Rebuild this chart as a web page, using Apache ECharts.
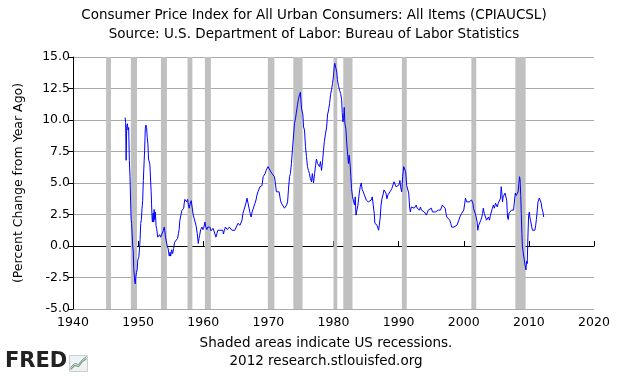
<!DOCTYPE html>
<html>
<head>
<meta charset="utf-8">
<script src="https://cdn.jsdelivr.net/npm/echarts@6/dist/echarts.min.js"></script>
<style>
	html, body { margin: 0; padding: 0; background: #fff; }
	#chart { width: 628px; height: 376px; }
</style>
</head>
<body>
<div id="chart"></div>
<script>
// Year-over-year % change of CPIAUCSL
const cpiYoY = [
	[ 1948.0, 10.2 ], [ 1948.08, 9.8 ], [ 1948.16, 6.8 ], [ 1948.25, 9.5 ], [ 1948.35, 9.7 ], [ 1948.45, 9.2 ],
	[ 1948.55, 9.4 ], [ 1948.65, 6.8 ], [ 1948.75, 5.5 ], [ 1948.85, 3.5 ], [ 1948.93, 2.1 ], [ 1949.0, 1.8 ],
	[ 1949.08, 1.0 ], [ 1949.17, 0.0 ], [ 1949.25, -0.4 ], [ 1949.33, -1.8 ], [ 1949.45, -2.6 ], [ 1949.55, -3.0 ],
	[ 1949.65, -2.4 ], [ 1949.75, -2.1 ], [ 1949.85, -1.9 ], [ 1949.95, -1.1 ], [ 1950.1, -0.9 ], [ 1950.2, -0.3 ],
	[ 1950.3, 0.5 ], [ 1950.4, 1.8 ], [ 1950.5, 2.1 ], [ 1950.6, 3.0 ], [ 1950.7, 3.6 ], [ 1950.8, 5.2 ],
	[ 1950.93, 6.8 ], [ 1951.0, 7.6 ], [ 1951.1, 9.3 ], [ 1951.2, 9.6 ], [ 1951.3, 9.4 ], [ 1951.4, 8.6 ],
	[ 1951.5, 8.1 ], [ 1951.6, 6.9 ], [ 1951.7, 7.0 ], [ 1951.8, 6.5 ], [ 1951.9, 6.6 ], [ 1952.0, 4.3 ],
	[ 1952.06, 3.4 ], [ 1952.15, 2.1 ], [ 1952.2, 1.9 ], [ 1952.3, 2.6 ], [ 1952.4, 1.9 ], [ 1952.45, 2.9 ],
	[ 1952.55, 2.1 ], [ 1952.65, 2.7 ], [ 1952.75, 1.6 ], [ 1952.85, 1.4 ], [ 1953.0, 0.7 ], [ 1953.15, 0.6 ],
	[ 1953.3, 0.9 ], [ 1953.45, 0.7 ], [ 1953.6, 0.8 ], [ 1953.75, 0.6 ], [ 1953.85, 1.2 ], [ 1954.0, 1.5 ],
	[ 1954.1, 1.2 ], [ 1954.2, 0.7 ], [ 1954.3, 0.6 ], [ 1954.47, 0.0 ], [ 1954.6, -0.2 ], [ 1954.78, -0.8 ],
	[ 1954.9, -0.5 ], [ 1955.0, -0.8 ], [ 1955.15, -0.3 ], [ 1955.3, -0.6 ], [ 1955.45, -0.2 ], [ 1955.6, 0.3 ],
	[ 1955.75, 0.4 ], [ 1955.9, 0.2 ], [ 1956.05, 0.6 ], [ 1956.2, 1.0 ], [ 1956.3, 1.3 ], [ 1956.4, 2.0 ],
	[ 1956.55, 2.1 ], [ 1956.7, 2.8 ], [ 1956.85, 2.9 ], [ 1957.0, 3.0 ], [ 1957.08, 3.4 ], [ 1957.18, 3.7 ],
	[ 1957.3, 3.6 ], [ 1957.45, 3.5 ], [ 1957.6, 3.7 ], [ 1957.7, 3.3 ], [ 1957.85, 3.0 ], [ 1958.0, 3.4 ],
	[ 1958.15, 3.6 ], [ 1958.3, 3.5 ], [ 1958.46, 2.45 ], [ 1958.6, 2.2 ], [ 1958.77, 2.05 ], [ 1958.9, 1.6 ],
	[ 1959.08, 1.0 ], [ 1959.23, 0.2 ], [ 1959.35, 0.6 ], [ 1959.45, 0.85 ], [ 1959.6, 1.3 ], [ 1959.8, 1.5 ],
	[ 1959.95, 1.3 ], [ 1960.1, 1.5 ], [ 1960.26, 1.9 ], [ 1960.4, 1.5 ], [ 1960.55, 1.3 ], [ 1960.7, 1.5 ],
	[ 1960.85, 1.4 ], [ 1961.03, 1.5 ], [ 1961.2, 1.2 ], [ 1961.35, 1.1 ], [ 1961.5, 1.4 ], [ 1961.65, 1.2 ],
	[ 1961.8, 1.15 ], [ 1961.95, 0.7 ], [ 1962.1, 1.0 ], [ 1962.25, 1.25 ], [ 1962.4, 1.4 ], [ 1962.56, 1.25 ],
	[ 1962.7, 1.25 ], [ 1962.85, 1.4 ], [ 1963.0, 1.25 ], [ 1963.1, 0.95 ], [ 1963.25, 1.25 ], [ 1963.4, 1.5 ],
	[ 1963.55, 1.65 ], [ 1963.7, 1.3 ], [ 1963.85, 1.25 ], [ 1964.0, 1.5 ], [ 1964.2, 1.5 ], [ 1964.4, 1.25 ],
	[ 1964.56, 1.15 ], [ 1964.7, 1.25 ], [ 1964.85, 1.25 ], [ 1965.0, 1.4 ], [ 1965.15, 1.4 ], [ 1965.33, 1.8 ],
	[ 1965.5, 1.9 ], [ 1965.65, 1.65 ], [ 1965.8, 1.8 ], [ 1965.95, 2.05 ], [ 1966.1, 2.6 ], [ 1966.25, 2.85 ],
	[ 1966.4, 2.8 ], [ 1966.55, 3.4 ], [ 1966.72, 3.8 ], [ 1966.85, 3.65 ], [ 1967.03, 3.0 ], [ 1967.2, 2.6 ],
	[ 1967.35, 2.3 ], [ 1967.5, 2.7 ], [ 1967.65, 2.6 ], [ 1967.8, 2.85 ], [ 1967.95, 3.4 ], [ 1968.1, 3.65 ],
	[ 1968.25, 4.05 ], [ 1968.4, 4.3 ], [ 1968.55, 4.4 ], [ 1968.7, 4.7 ], [ 1968.85, 4.55 ], [ 1969.03, 4.8 ],
	[ 1969.2, 5.5 ], [ 1969.35, 5.6 ], [ 1969.5, 5.75 ], [ 1969.65, 6.0 ], [ 1969.8, 5.9 ], [ 1969.95, 6.3 ],
	[ 1970.1, 6.4 ], [ 1970.26, 6.0 ], [ 1970.4, 5.9 ], [ 1970.55, 5.75 ], [ 1970.75, 5.6 ], [ 1970.93, 5.5 ],
	[ 1971.05, 5.1 ], [ 1971.23, 4.3 ], [ 1971.35, 4.4 ], [ 1971.5, 4.2 ], [ 1971.65, 4.3 ], [ 1971.85, 3.65 ],
	[ 1972.0, 3.4 ], [ 1972.15, 3.5 ], [ 1972.3, 3.25 ], [ 1972.47, 3.0 ], [ 1972.6, 3.0 ], [ 1972.8, 3.25 ],
	[ 1972.95, 3.5 ], [ 1973.08, 4.45 ], [ 1973.25, 5.5 ], [ 1973.38, 5.75 ], [ 1973.54, 6.55 ], [ 1973.7, 7.7 ],
	[ 1973.85, 8.65 ], [ 1974.0, 9.7 ], [ 1974.16, 10.1 ], [ 1974.3, 10.2 ], [ 1974.47, 11.2 ], [ 1974.6, 11.6 ],
	[ 1974.77, 12.0 ], [ 1974.92, 12.2 ], [ 1975.0, 11.5 ], [ 1975.1, 10.9 ], [ 1975.3, 10.4 ], [ 1975.4, 9.45 ],
	[ 1975.55, 9.2 ], [ 1975.7, 7.9 ], [ 1975.85, 7.1 ], [ 1976.0, 6.3 ], [ 1976.16, 6.0 ], [ 1976.3, 5.75 ],
	[ 1976.45, 5.35 ], [ 1976.62, 5.1 ], [ 1976.75, 5.75 ], [ 1976.93, 5.0 ], [ 1977.1, 5.75 ], [ 1977.25, 6.4 ],
	[ 1977.38, 6.9 ], [ 1977.55, 6.55 ], [ 1977.7, 6.6 ], [ 1977.85, 6.3 ], [ 1978.0, 6.7 ], [ 1978.16, 6.0 ],
	[ 1978.3, 6.6 ], [ 1978.46, 7.6 ], [ 1978.6, 8.3 ], [ 1978.77, 8.9 ], [ 1978.95, 9.45 ], [ 1979.08, 10.4 ],
	[ 1979.25, 10.8 ], [ 1979.4, 11.3 ], [ 1979.54, 12.0 ], [ 1979.7, 12.4 ], [ 1979.85, 12.9 ], [ 1980.0, 13.5 ],
	[ 1980.1, 14.2 ], [ 1980.2, 14.5 ], [ 1980.3, 14.6 ], [ 1980.4, 14.5 ], [ 1980.5, 13.8 ], [ 1980.6, 13.2 ],
	[ 1980.75, 12.75 ], [ 1980.93, 12.35 ], [ 1981.1, 12.1 ], [ 1981.25, 11.6 ], [ 1981.34, 10.6 ], [ 1981.45, 9.85 ],
	[ 1981.55, 10.1 ], [ 1981.65, 11.0 ], [ 1981.75, 9.7 ], [ 1981.9, 9.3 ], [ 1982.06, 8.0 ], [ 1982.2, 7.1 ],
	[ 1982.3, 6.55 ], [ 1982.4, 7.2 ], [ 1982.57, 6.3 ], [ 1982.67, 5.5 ], [ 1982.77, 4.55 ], [ 1982.92, 3.9 ],
	[ 1983.05, 3.75 ], [ 1983.23, 3.25 ], [ 1983.34, 3.9 ], [ 1983.45, 2.45 ], [ 1983.6, 2.85 ], [ 1983.75, 3.25 ],
	[ 1983.96, 4.2 ], [ 1984.1, 4.7 ], [ 1984.26, 5.0 ], [ 1984.4, 4.5 ], [ 1984.56, 4.3 ], [ 1984.7, 4.3 ],
	[ 1984.85, 4.2 ], [ 1985.03, 3.65 ], [ 1985.2, 3.8 ], [ 1985.35, 3.5 ], [ 1985.5, 3.65 ], [ 1985.65, 3.4 ],
	[ 1985.8, 3.65 ], [ 1985.95, 3.9 ], [ 1986.1, 4.05 ], [ 1986.25, 2.6 ], [ 1986.36, 1.8 ], [ 1986.5, 1.8 ],
	[ 1986.68, 1.65 ], [ 1986.83, 1.5 ], [ 1986.93, 1.25 ], [ 1987.03, 1.65 ], [ 1987.18, 2.3 ], [ 1987.3, 3.25 ],
	[ 1987.45, 3.8 ], [ 1987.6, 4.05 ], [ 1987.75, 4.45 ], [ 1987.9, 4.3 ], [ 1988.05, 4.2 ], [ 1988.21, 3.75 ],
	[ 1988.35, 4.05 ], [ 1988.5, 4.2 ], [ 1988.67, 4.3 ], [ 1988.8, 4.45 ], [ 1988.95, 4.55 ], [ 1989.1, 4.7 ],
	[ 1989.29, 5.1 ], [ 1989.45, 5.2 ], [ 1989.6, 4.7 ], [ 1989.75, 4.85 ], [ 1989.9, 4.7 ], [ 1990.05, 4.85 ],
	[ 1990.2, 5.2 ], [ 1990.3, 4.7 ], [ 1990.47, 4.3 ], [ 1990.62, 5.5 ], [ 1990.78, 6.3 ], [ 1990.93, 6.2 ],
	[ 1991.08, 5.9 ], [ 1991.24, 4.8 ], [ 1991.4, 4.9 ], [ 1991.55, 4.2 ], [ 1991.7, 3.0 ], [ 1991.8, 2.7 ],
	[ 1991.95, 3.1 ], [ 1992.1, 3.0 ], [ 1992.25, 3.1 ], [ 1992.4, 3.0 ], [ 1992.57, 3.1 ], [ 1992.7, 3.25 ],
	[ 1992.85, 3.0 ], [ 1993.0, 3.1 ], [ 1993.2, 2.85 ], [ 1993.35, 3.1 ], [ 1993.5, 2.85 ], [ 1993.65, 2.85 ],
	[ 1993.8, 2.7 ], [ 1993.95, 2.7 ], [ 1994.1, 2.6 ], [ 1994.26, 2.45 ], [ 1994.4, 2.3 ], [ 1994.55, 2.85 ],
	[ 1994.7, 2.7 ], [ 1994.85, 2.7 ], [ 1995.03, 3.0 ], [ 1995.2, 2.7 ], [ 1995.35, 2.85 ], [ 1995.5, 2.6 ],
	[ 1995.65, 2.7 ], [ 1995.8, 2.85 ], [ 1995.95, 2.7 ], [ 1996.1, 2.85 ], [ 1996.25, 2.85 ], [ 1996.42, 2.85 ],
	[ 1996.57, 3.0 ], [ 1996.72, 3.25 ], [ 1996.88, 3.4 ], [ 1997.0, 3.25 ], [ 1997.15, 3.0 ], [ 1997.3, 2.5 ],
	[ 1997.4, 2.3 ], [ 1997.55, 2.2 ], [ 1997.7, 2.3 ], [ 1997.85, 2.05 ], [ 1998.0, 1.8 ], [ 1998.15, 1.5 ],
	[ 1998.32, 1.4 ], [ 1998.5, 1.5 ], [ 1998.65, 1.65 ], [ 1998.8, 1.5 ], [ 1998.95, 1.65 ], [ 1999.09, 1.8 ],
	[ 1999.25, 2.05 ], [ 1999.4, 2.3 ], [ 1999.55, 2.3 ], [ 1999.7, 2.6 ], [ 1999.85, 2.7 ], [ 2000.0, 2.85 ],
	[ 2000.16, 3.4 ], [ 2000.26, 3.8 ], [ 2000.35, 3.65 ], [ 2000.45, 3.5 ], [ 2000.55, 3.65 ], [ 2000.7, 3.4 ],
	[ 2000.85, 3.5 ], [ 2001.03, 3.65 ], [ 2001.2, 3.65 ], [ 2001.3, 3.5 ], [ 2001.4, 3.4 ], [ 2001.5, 3.0 ],
	[ 2001.6, 2.85 ], [ 2001.75, 2.6 ], [ 2001.9, 2.3 ], [ 2002.06, 1.9 ], [ 2002.15, 1.25 ], [ 2002.3, 1.65 ],
	[ 2002.45, 1.8 ], [ 2002.62, 2.05 ], [ 2002.78, 2.3 ], [ 2002.9, 2.6 ], [ 2003.0, 3.0 ], [ 2003.15, 2.6 ],
	[ 2003.34, 2.3 ], [ 2003.5, 2.05 ], [ 2003.65, 2.2 ], [ 2003.8, 2.3 ], [ 2003.95, 2.05 ], [ 2004.1, 2.45 ],
	[ 2004.25, 2.6 ], [ 2004.4, 3.0 ], [ 2004.55, 3.25 ], [ 2004.7, 3.0 ], [ 2004.88, 3.4 ], [ 2005.0, 3.5 ],
	[ 2005.15, 3.1 ], [ 2005.3, 3.4 ], [ 2005.45, 3.4 ], [ 2005.65, 3.8 ], [ 2005.75, 4.7 ], [ 2005.85, 4.2 ],
	[ 2005.95, 3.5 ], [ 2006.05, 3.9 ], [ 2006.2, 3.8 ], [ 2006.35, 4.2 ], [ 2006.5, 4.1 ], [ 2006.6, 3.6 ],
	[ 2006.72, 2.3 ], [ 2006.83, 2.1 ], [ 2006.95, 2.6 ], [ 2007.1, 2.5 ], [ 2007.25, 2.7 ], [ 2007.34, 2.85 ],
	[ 2007.5, 2.7 ], [ 2007.65, 2.85 ], [ 2007.8, 3.65 ], [ 2007.92, 4.2 ], [ 2008.05, 4.0 ], [ 2008.2, 4.1 ],
	[ 2008.35, 4.3 ], [ 2008.45, 4.85 ], [ 2008.57, 5.5 ], [ 2008.65, 5.25 ], [ 2008.75, 4.0 ], [ 2008.83, 2.6 ],
	[ 2008.93, 1.0 ], [ 2009.0, 0.0 ], [ 2009.1, -0.1 ], [ 2009.2, -0.8 ], [ 2009.3, -1.1 ], [ 2009.4, -1.5 ],
	[ 2009.55, -1.9 ], [ 2009.65, -1.2 ], [ 2009.75, -1.4 ], [ 2009.85, 0.7 ], [ 2009.95, 2.3 ], [ 2010.06, 2.7 ],
	[ 2010.15, 2.3 ], [ 2010.25, 2.05 ], [ 2010.35, 2.05 ], [ 2010.45, 1.5 ], [ 2010.55, 1.25 ], [ 2010.68, 1.25 ],
	[ 2010.8, 1.2 ], [ 2010.92, 1.25 ], [ 2011.05, 1.65 ], [ 2011.15, 2.1 ], [ 2011.29, 2.85 ], [ 2011.4, 3.5 ],
	[ 2011.5, 3.65 ], [ 2011.6, 3.8 ], [ 2011.7, 3.9 ], [ 2011.8, 3.8 ], [ 2011.9, 3.4 ], [ 2012.0, 3.0 ],
	[ 2012.16, 2.7 ], [ 2012.27, 2.3 ]
];

// NBER recessions as fractional years (start, end)
const recessionStart = [ 1945.08, 1948.88, 1953.5, 1957.58, 1960.25, 1969.92, 1973.83, 1980.0, 1981.5, 1990.5, 2001.17, 2007.92 ];
const recessionEnd = [ 1945.83, 1949.83, 1954.42, 1958.33, 1961.17, 1970.92, 1975.25, 1980.58, 1982.92, 1991.25, 2001.92, 2009.5 ];

const yearTicks = [ 1940, 2020, 10 ];
const valueTicks = [ -5, 15, 2.5 ];

const FONT = 'DejaVu Sans';

const recessionAreas = recessionStart.map( ( s, i ) => [
	{ xAxis: s },
	{ xAxis: recessionEnd[ i ] }
] );

const headerStyle = { fontFamily: FONT, fontSize: 13.5, fontWeight: 'normal', color: '#000' };

const chart = echarts.init( document.getElementById( 'chart' ), null, { renderer: 'canvas' } );

chart.setOption( {
	animation: false,
	textStyle: { fontFamily: FONT, color: '#000' },
	title: [
		{
			text: 'Consumer Price Index for All Urban Consumers: All Items (CPIAUCSL)',
			left: 'center',
			top: 3,
			textStyle: headerStyle
		},
		{
			text: 'Source: U.S. Department of Labor: Bureau of Labor Statistics',
			left: 'center',
			top: 22,
			textStyle: headerStyle
		}
	],
	grid: { left: 73, right: 34, top: 57, bottom: 67, containLabel: false },
	xAxis: {
		type: 'value',
		min: yearTicks[ 0 ],
		max: yearTicks[ 1 ],
		interval: yearTicks[ 2 ],
		axisLine: { show: true, lineStyle: { color: '#000', width: 1 } },
		axisTick: { show: true, inside: true, length: 5, lineStyle: { color: '#000' } },
		axisLabel: { color: '#000', fontSize: 12.5, fontFamily: FONT, margin: 7, formatter: ( v ) => String( v ) },
		splitLine: { show: false }
	},
	yAxis: {
		type: 'value',
		min: valueTicks[ 0 ],
		max: valueTicks[ 1 ],
		interval: valueTicks[ 2 ],
		name: '(Percent Change from Year Ago)',
		nameLocation: 'middle',
		nameGap: 48,
		nameTextStyle: { fontFamily: FONT, fontSize: 12.5, color: '#000' },
		axisLine: { show: true, lineStyle: { color: '#000', width: 1 } },
		axisTick: { show: true, inside: false, length: 5, lineStyle: { color: '#000' } },
		axisLabel: { color: '#000', fontSize: 12.5, fontFamily: FONT, margin: 3, formatter: ( v ) => v.toFixed( 1 ) },
		splitLine: { show: true, lineStyle: { color: '#aaaaaa', width: 1 } }
	},
	series: [
		{
			type: 'line',
			data: [],
			silent: true,
			markArea: {
				silent: true,
				itemStyle: { color: '#c0c0c0' },
				data: recessionAreas
			}
		},
		{
			type: 'line',
			data: cpiYoY,
			showSymbol: false,
			lineStyle: { color: '#0000ff', width: 1 },
			z: 5
		}
	],
	graphic: [
		{
			type: 'text',
			x: 326,
			y: 336,
			style: { text: 'Shaded areas indicate US recessions.', align: 'center', fontFamily: FONT, fontSize: 13.5, fill: '#000' }
		},
		{
			type: 'text',
			x: 326,
			y: 354,
			style: { text: '2012 research.stlouisfed.org', align: 'center', fontFamily: FONT, fontSize: 13.5, fill: '#000' }
		},
		{
			type: 'text',
			left: 5,
			top: 351,
			style: { text: 'FRED', fontFamily: FONT, fontSize: 21, fontWeight: 'bold', fill: '#222' }
		},
		{
			type: 'group',
			left: 68,
			top: 354,
			children: [
				{ type: 'rect', shape: { x: 0, y: 0, width: 18, height: 16 }, style: { fill: '#eef2f4', stroke: '#c8d0d4' } },
				{ type: 'polyline', shape: { points: [ [ 1, 14 ], [ 5, 10 ], [ 9, 11 ], [ 13, 6 ], [ 17, 3 ] ] }, style: { stroke: '#7aa35a', lineWidth: 1.2, fill: null } },
				{ type: 'polyline', shape: { points: [ [ 1, 12 ], [ 5, 8 ], [ 9, 9 ], [ 13, 4 ], [ 17, 1 ] ] }, style: { stroke: '#6a8fc0', lineWidth: 1, fill: null } }
			]
		}
	]
} );
</script>
</body>
</html>
